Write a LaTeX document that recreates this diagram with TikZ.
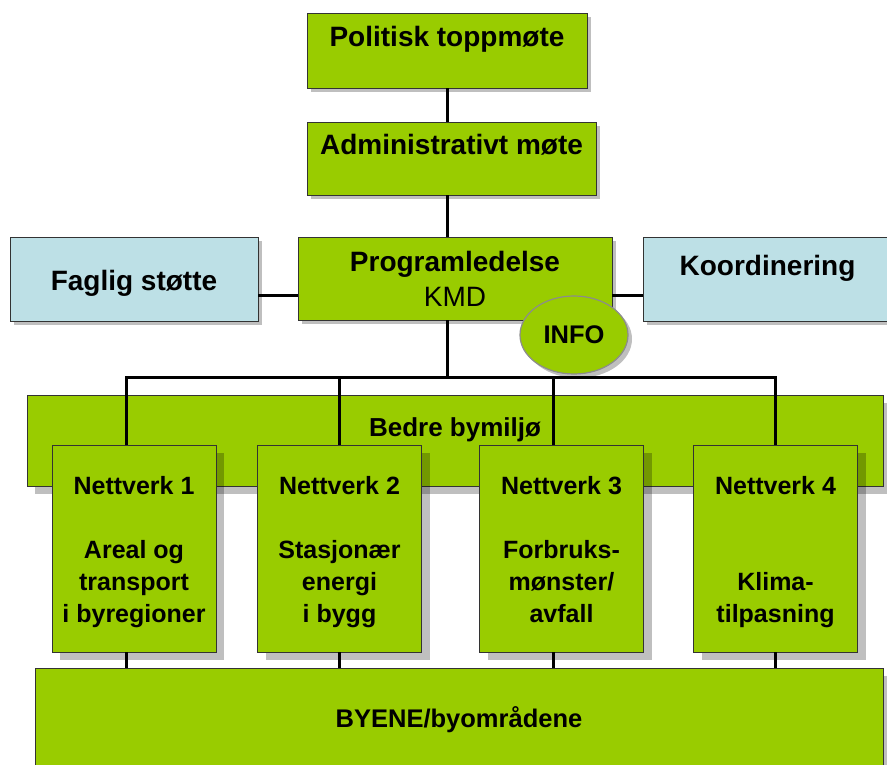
\documentclass[tikz,border=0pt]{standalone}
\usepackage{fontspec}
\setmainfont{Liberation Sans}
\usetikzlibrary{shadows,shapes.geometric}

\definecolor{boxgreen}{RGB}{153,204,0}
\definecolor{boxblue}{RGB}{189,224,230}

\newcommand{\nethead}[1]{\rule{0pt}{26pt}#1}

\tikzset{
  orgbox/.style={draw=black!80, line width=0.8pt, fill=boxgreen, inner sep=0pt, align=center},
  sidebox/.style={orgbox, fill=boxblue},
  smallshadow/.style={drop shadow={shadow xshift=4pt, shadow yshift=-4pt, fill=black, opacity=.25}},
  bigshadow/.style={drop shadow={shadow xshift=8pt, shadow yshift=-8pt, fill=black, opacity=.25}},
  toptext/.style={text height=18pt, text depth=26pt},
  bigfont/.style={font=\bfseries\fontsize{28}{35}\selectfont},
  netbox/.style={orgbox, bigshadow, minimum width=164pt, minimum height=207pt,
    font=\bfseries\fontsize{25}{32}\selectfont},
  link/.style={line width=3pt, black}
}

\begin{document}
\begin{tikzpicture}[x=1pt, y=-1pt]

  \useasboundingbox (0,0) rectangle (887,765);
  \clip (0,0) rectangle (887,765);

  % top of the chart
  \node[orgbox, smallshadow, toptext, bigfont, minimum width=280pt, minimum height=75pt]
    (top) at (447,50.5) {Politisk toppmøte};
  \node[orgbox, smallshadow, toptext, bigfont, minimum width=289pt, minimum height=73pt]
    (admin) at (451.5,158.5) {Administrativt møte};
  \node[orgbox, smallshadow, bigfont, minimum width=314pt, minimum height=83pt]
    (prog) at (455,278.5) {Programledelse\\{\mdseries KMD}};
  \node[sidebox, smallshadow, bigfont, minimum width=248pt, minimum height=84pt]
    (faglig) at (134,279) {\rule{0pt}{28pt}Faglig støtte};
  \node[sidebox, smallshadow, toptext, bigfont, minimum width=249pt, minimum height=84pt]
    (koord) at (767.5,279) {Koordinering};

  % networks
  \node[orgbox, bigshadow, toptext, minimum width=856pt, minimum height=91pt,
    font=\bfseries\fontsize{26}{32}\selectfont] (bedre) at (455,440.5) {Bedre bymiljø};

  \node[netbox] (n1) at (134,548.5) {\nethead{Nettverk 1}\\~\\Areal og\\transport\\i byregioner};
  \node[netbox] (n2) at (339.5,548.5) {\nethead{Nettverk 2}\\~\\Stasjonær\\energi\\i bygg};
  \node[netbox] (n3) at (561.5,548.5) {\nethead{Nettverk 3}\\~\\Forbruks-\\mønster/\\avfall\vphantom{g}};
  \node[netbox] (n4) at (775.5,548.5) {\nethead{Nettverk 4}\\~\\~\\Klima-\\tilpasning};

  \node[orgbox, bigshadow, minimum width=848pt, minimum height=104pt,
    font=\bfseries\fontsize{25.5}{30}\selectfont] (byene) at (459,720) {BYENE/byområdene};

  % connectors
  \coordinate (bus) at (447,377);
  \coordinate (side) at (0,295);

  \draw[link] (top.south) -- (top.south |- admin.north);
  \draw[link] (top.south |- admin.south) -- (top.south |- prog.north);
  \draw[link] (top.south |- prog.south) -- (bus);
  \draw[link] (faglig.east |- side) -- (prog.west |- side);
  \draw[link] (prog.east |- side) -- (koord.west |- side);

  \foreach \n/\x in {n1/126, n2/339, n3/553, n4/775}{
      \coordinate (d\n) at (\x,377);
      \draw[link] (d\n |- \n.south) -- (d\n |- byene.north);
    }
  \draw[link] (dn1 |- n1.north) -- (dn1) -- (dn4) -- (dn4 |- n4.north);
  \draw[link] (dn2) -- (dn2 |- n2.north);
  \draw[link] (dn3) -- (dn3 |- n3.north);

  \node[ellipse, draw=black!45, line width=1.2pt, fill=boxgreen, smallshadow, inner sep=0pt,
    minimum width=108pt, minimum height=78pt, font=\bfseries\fontsize{25.5}{30}\selectfont]
    (info) at (574,335) {INFO};

\end{tikzpicture}
\end{document}
